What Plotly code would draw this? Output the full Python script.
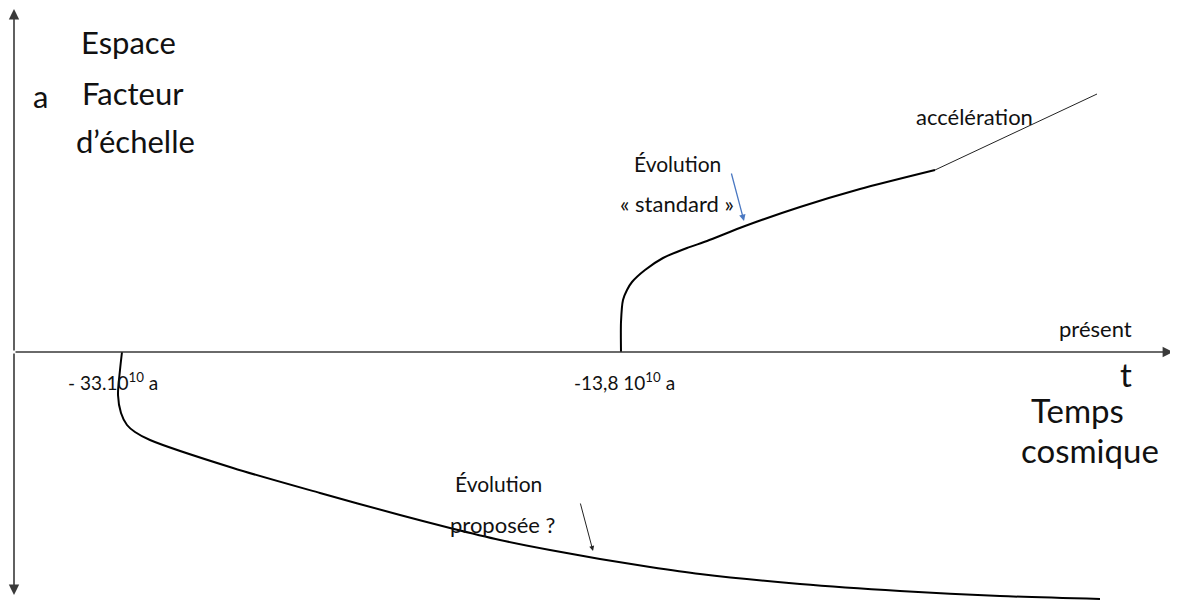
import plotly.graph_objects as go

# schematic coordinates: x = horizontal position, y = height above the time axis
std_x = [621, 621, 623, 627, 632, 645, 663, 687, 707, 745, 800, 860, 935]
std_y = [0, 30, 52, 62, 70, 82, 94, 104, 111, 126, 145, 163, 182]

acc_x = [935, 1097]
acc_y = [182, 258]

prop_x = [122, 120, 118, 121, 127, 135, 150, 233, 320, 400, 450, 500, 550, 600, 650, 700, 800, 900, 1000, 1100]
prop_y = [0, -18, -43, -61, -73, -80, -88, -116, -141, -163, -176, -188, -198, -207, -215, -222, -232, -239, -244, -247]

t_start_label = "- 33.10<sup>10</sup> a"
t_big_bang_label = "-13,8 10<sup>10</sup> a"

FONT = "Lato, 'Open Sans', sans-serif"
AX = "#3a3a3a"

fig = go.Figure()
fig.add_trace(go.Scatter(x=std_x, y=std_y, mode="lines",
                         line=dict(color="black", width=2, shape="spline", smoothing=0.7)))
fig.add_trace(go.Scatter(x=acc_x, y=acc_y, mode="lines", line=dict(color="#222222", width=1)))
fig.add_trace(go.Scatter(x=prop_x, y=prop_y, mode="lines",
                         line=dict(color="black", width=2, shape="spline", smoothing=0.8)))

anns = []


def arrow(x0, y0, x1, y1, color=AX, width=1.6, size=1.0):
    anns.append(dict(x=x1, y=y1, ax=x0, ay=y0, xref="x", yref="y", axref="x", ayref="y",
                     showarrow=True, arrowhead=2, arrowsize=size, arrowwidth=width,
                     arrowcolor=color, text=""))


arrow(14, 0, 1173, 0, size=1.3)          # time axis
arrow(14, 0, 14, 343, size=1.3)          # a axis up
arrow(14, 0, 14, -243, size=1.3)         # a axis down
arrow(731, 180, 744, 131, color="#4a78c2", width=1.3)   # standard
arrow(580, -150, 593, -199, color="#222222", width=1.0)  # proposed


def txt(x, y, s, size):
    anns.append(dict(x=x, y=y, xref="x", yref="y", text=s, showarrow=False,
                     xanchor="center", yanchor="middle",
                     font=dict(family=FONT, size=size, color="#111111")))


txt(40, 256, "a", 31)
txt(128, 310, "Espace", 31)
txt(133, 259, "Facteur", 31)
txt(135, 211, "d\u2019\u00e9chelle", 31)
txt(974, 236, "acc\u00e9l\u00e9ration", 22)
txt(677, 189, "\u00c9volution", 21)
txt(677, 149, "\u00ab standard \u00bb", 22)
txt(1095, 24, "pr\u00e9sent", 22)
txt(1126, -22, "t", 33)
txt(1077, -58, "Temps", 33)
txt(1090, -98, "cosmique", 33)
txt(113, -29, t_start_label, 19)
txt(624, -29, t_big_bang_label, 19)
txt(498, -131, "\u00c9volution", 21)
txt(502, -172, "propos\u00e9e ?", 22)

# page body adds 8px margin, so the figure starts 8px in
fig.update_layout(
    width=1170, height=592,
    margin=dict(l=0, r=0, t=0, b=0),
    paper_bgcolor="white", plot_bgcolor="white",
    showlegend=False,
    annotations=anns,
    xaxis=dict(range=[8, 1178], visible=False, fixedrange=True),
    yaxis=dict(range=[-248, 344], visible=False, fixedrange=True),
)

fig.write_html("out.html")
